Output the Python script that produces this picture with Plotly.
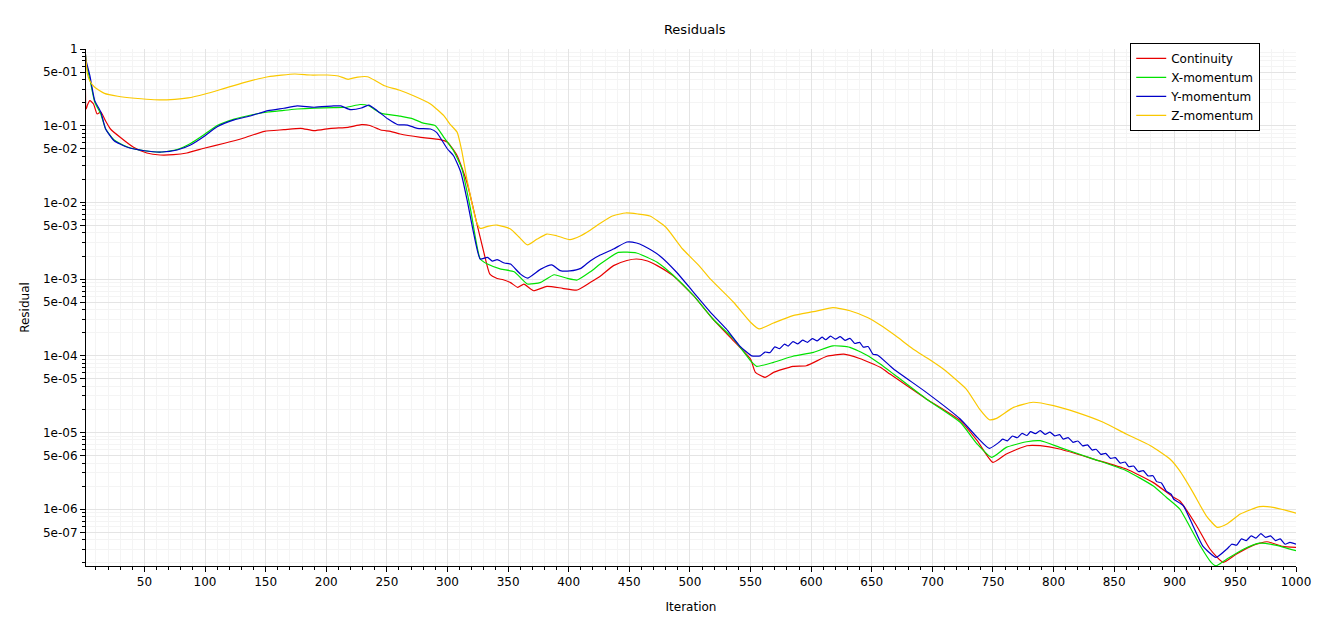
import plotly.graph_objects as go

# Continuity residual
it_cont = [1, 2, 3, 5, 8, 11, 14, 18, 22, 30, 41, 52, 63, 74, 85, 100, 116, 132, 149, 165,
           179, 190, 204, 218, 229, 236, 245, 253, 261, 278, 294, 300, 308, 316, 324, 330, 335,
           341, 346, 352, 358, 363, 371, 382, 395, 407, 418, 426, 437, 448, 456, 465, 473, 486,
           503, 519, 536, 550, 554, 562, 569, 585, 596, 613, 627, 640, 657, 665, 695, 723, 737,
           750, 761, 778, 789, 805, 833, 860, 882, 899, 904, 918, 929, 940, 951, 965, 976, 989, 1000]
res_cont = [1.0, 0.165, 0.186, 0.212, 0.192, 0.142, 0.151, 0.115, 0.0906, 0.0706, 0.0523, 0.0441,
            0.0415, 0.0419, 0.0441, 0.0512, 0.0590, 0.0692, 0.0845, 0.0887,
            0.0925, 0.0861, 0.0925, 0.0953, 0.103, 0.1006, 0.0879, 0.0845, 0.0780, 0.0706, 0.0657,
            0.0608, 0.0406, 0.0183, 0.00550, 0.00223, 0.00116,
            0.00102, 0.00098, 0.00090, 0.00078, 0.00086, 0.000706, 0.000805, 0.000759, 0.000721,
            0.000908, 0.00109, 0.00150, 0.00175, 0.00183, 0.00172, 0.00150, 0.00111,
            0.000608, 0.000302, 0.000157, 9.08e-5, 6.09e-5, 5.25e-5, 6.09e-5, 7.30e-5, 7.43e-5,
            9.86e-5, 1.05e-4, 9.23e-5, 7.08e-5, 5.79e-5, 2.74e-5, 1.43e-5, 7.82e-6,
            4.08e-6, 5.25e-6, 6.73e-6, 6.73e-6, 6.10e-6, 4.51e-6, 3.34e-6, 2.24e-6, 1.43e-6,
            1.29e-6, 6.10e-7, 3.03e-7, 2.03e-7, 2.61e-7, 3.41e-7, 3.77e-7, 3.28e-7, 3.18e-7]

# X-momentum residual
it_xmom = [1, 2, 5, 9, 14, 18, 25, 36, 50, 64, 77, 88, 100, 110, 124, 138, 152, 165, 176, 190,
           206, 217, 228, 235, 245, 261, 272, 280, 290, 297, 305, 312, 319, 327, 333, 344, 355,
           366, 377, 388, 399, 407, 418, 426, 441, 456, 473, 486, 503, 519, 536, 550, 555, 569,
           585, 602, 618, 632, 646, 657, 668, 695, 723, 737, 749, 761, 778, 789, 805, 833, 860,
           882, 893, 904, 909, 921, 930, 934, 943, 957, 970, 983, 1000]
res_xmom = [1.0, 0.637, 0.406, 0.204, 0.142, 0.0906, 0.0651, 0.0528, 0.0472, 0.0454, 0.0489,
            0.0586, 0.0780, 0.1006, 0.122, 0.138, 0.151, 0.158, 0.165, 0.170,
            0.172, 0.174, 0.189, 0.182, 0.146, 0.133, 0.122, 0.108, 0.100, 0.0706, 0.0472, 0.0272,
            0.00820, 0.00183, 0.00157, 0.00135, 0.00125,
            0.000863, 0.000908, 0.00114, 0.00102, 0.000973, 0.00125, 0.00157, 0.00223, 0.00219,
            0.00166, 0.00113, 0.000608, 0.000302, 0.000166, 8.63e-5, 7.30e-5, 8.22e-5,
            9.86e-5, 1.11e-4, 1.35e-4, 1.29e-4, 1.02e-4, 7.82e-5, 5.79e-5, 2.74e-5, 1.36e-5,
            7.08e-6, 4.75e-6, 6.41e-6, 7.59e-6, 7.82e-6, 6.41e-6, 4.51e-6, 3.18e-6,
            2.02e-6, 1.43e-6, 1.01e-6, 7.45e-7, 3.34e-7, 2.03e-7, 1.83e-7, 2.24e-7, 3.03e-7,
            3.62e-7, 3.41e-7, 2.88e-7]

# Y-momentum residual (wavy in the later stages)
it_ymom = [1, 2, 5, 9, 14, 18, 25, 36, 50, 64, 77, 88, 100, 110, 124, 138, 152, 165, 176, 190,
           206, 212, 220, 229, 235, 242, 251, 259, 267, 275, 286, 291, 300, 305, 311, 316, 322,
           327, 333, 337, 341, 347, 352, 360, 366, 377, 386, 393, 401, 410, 418, 426, 437, 448,
           456, 462, 475, 489, 503, 517, 530, 541, 551, 558,
           562, 566, 570, 574, 578, 581, 585, 589, 593, 597, 601, 605, 609, 612, 616, 620, 624,
           628, 632, 636, 640, 643, 647, 651, 655,
           668, 695, 723, 737, 747, 755,
           758, 762, 766, 770, 774, 778, 781, 785, 789, 793, 797, 801, 805, 808, 812, 816, 820,
           824, 828, 832, 835, 839, 843, 847, 851, 855, 859, 862, 866, 870, 874, 878, 882, 885,
           889, 893, 897,
           899, 907, 915, 923, 934, 943,
           947, 951, 955, 959, 963, 967, 971, 975, 979, 983, 987, 991, 995, 1000]
res_ymom = [1.0, 0.698, 0.449, 0.212, 0.151, 0.0906, 0.0637, 0.0523, 0.0472, 0.0454, 0.0482,
            0.0560, 0.0741, 0.0970, 0.119, 0.135, 0.157, 0.169, 0.181, 0.174,
            0.181, 0.181, 0.162, 0.170, 0.185, 0.157, 0.122, 0.103, 0.102, 0.0925, 0.0906, 0.0820,
            0.0497, 0.0406, 0.0247, 0.0111, 0.00368,
            0.00183, 0.00192, 0.00172, 0.00179, 0.00162, 0.00157, 0.00117, 0.00103, 0.00135,
            0.00153, 0.00129, 0.00128, 0.00138, 0.00174, 0.00206, 0.00247, 0.00305,
            0.00296, 0.00270, 0.00202, 0.00123, 0.000673, 0.000369, 0.000224, 0.000135,
            1.00e-4, 1.00e-4,
            1.12e-4, 1.10e-4, 1.31e-4, 1.24e-4, 1.42e-4, 1.34e-4, 1.53e-4, 1.43e-4, 1.60e-4,
            1.50e-4, 1.68e-4, 1.57e-4, 1.75e-4, 1.62e-4, 1.81e-4, 1.65e-4, 1.78e-4,
            1.59e-4, 1.69e-4, 1.45e-4, 1.50e-4, 1.30e-4, 1.32e-4, 1.05e-4, 1.02e-4,
            6.73e-5, 3.34e-5, 1.50e-5, 8.65e-6, 6.22e-6, 7.45e-6,
            8.2e-6, 7.8e-6, 9.0e-6, 8.55e-6, 9.75e-6, 9.15e-6, 1.03e-5, 9.65e-6, 1.06e-5, 9.45e-6,
            1.015e-5, 9.05e-6, 9.4e-6, 8.2e-6, 8.6e-6, 7.45e-6, 7.75e-6,
            6.7e-6, 6.9e-6, 5.9e-6, 6.05e-6, 5.2e-6, 5.35e-6, 4.6e-6, 4.7e-6, 4.0e-6, 4.13e-6,
            3.58e-6, 3.66e-6, 3.1e-6, 3.19e-6, 2.72e-6, 2.73e-6, 2.29e-6,
            2.2e-6, 1.72e-6, 1.57e-6,
            1.36e-6, 1.11e-6, 6.10e-7, 3.34e-7, 2.36e-7, 3.03e-7,
            3.5e-7, 3.4e-7, 4.1e-7, 3.9e-7, 4.5e-7, 4.2e-7, 4.8e-7, 4.3e-7, 4.5e-7, 3.9e-7,
            4.1e-7, 3.5e-7, 3.7e-7, 3.5e-7]

# Z-momentum residual
it_zmom = [1, 3, 5, 9, 17, 28, 42, 58, 75, 86, 100, 116, 132, 152, 174, 187, 201, 210, 218, 226,
           234, 241, 248, 260, 272, 286, 297, 302, 308, 312, 316, 320, 324, 327, 334, 341, 352,
           359, 366, 374, 382, 390, 401, 410, 418, 426, 436, 447, 457, 467, 480, 494, 508, 517,
           536, 550, 557, 569, 585, 602, 618, 632, 646, 657, 670, 684, 697, 709, 728, 739, 747,
           753, 767, 783, 800, 819, 841, 860, 880, 896, 904, 915, 926, 935, 943, 954, 970, 981, 1000]
res_zmom = [1.0, 0.472, 0.383, 0.317, 0.264, 0.242, 0.228, 0.218, 0.221, 0.230, 0.259, 0.307,
            0.364, 0.435, 0.472, 0.458, 0.458, 0.445, 0.403, 0.431,
            0.435, 0.383, 0.332, 0.292, 0.246, 0.192, 0.135, 0.105, 0.082, 0.0454, 0.0202, 0.0101,
            0.00555, 0.00459, 0.00492, 0.00507, 0.00450,
            0.00354, 0.00279, 0.00333, 0.00387, 0.00368, 0.00327, 0.00368, 0.00437, 0.00534,
            0.00665, 0.00728, 0.00706, 0.00665, 0.00478, 0.00247, 0.00147, 0.00100,
            0.000499, 0.000274, 0.000224, 0.000268, 0.000334, 0.000376, 0.000424, 0.000387,
            0.000318, 0.000252, 0.000181, 0.000123, 9.08e-5, 6.73e-5, 3.69e-5, 2.02e-5, 1.47e-5,
            1.53e-5, 2.13e-5, 2.48e-5, 2.24e-5, 1.83e-5, 1.36e-5, 9.55e-6, 6.73e-6, 4.51e-6,
            3.18e-6, 1.66e-6, 8.22e-7, 5.81e-7, 6.41e-7, 8.65e-7, 1.08e-6, 1.06e-6, 8.91e-7]

y_tickvals = [1, 5e-1, 1e-1, 5e-2, 1e-2, 5e-3, 1e-3, 5e-4, 1e-4, 5e-5, 1e-5, 5e-6, 1e-6, 5e-7]
y_ticktext = ["1", "5e-01", "1e-01", "5e-02", "1e-02", "5e-03", "1e-03", "5e-04",
              "1e-04", "5e-05", "1e-05", "5e-06", "1e-06", "5e-07"]

series = [
    ("Continuity", it_cont, res_cont, "rgb(232,0,0)"),
    ("X-momentum", it_xmom, res_xmom, "rgb(0,226,0)"),
    ("Y-momentum", it_ymom, res_ymom, "rgb(0,0,200)"),
    ("Z-momentum", it_zmom, res_zmom, "rgb(250,200,0)"),
]

# minor ticks on the log axis: 2..9 x each decade
minor_vals = []
for p in range(0, 8):
    for m in [2, 3, 4, 6, 7, 8, 9]:
        minor_vals.append(m * 10.0 ** (-p - 1))

fig = go.Figure()
for name, xs, ys, col in series:
    fig.add_trace(go.Scatter(x=xs, y=ys, mode="lines", name=name,
                             line=dict(color=col, width=1.2, shape="spline", smoothing=0.5)))

# page body has an 8px margin, so the figure is a bit smaller than the window
font = "DejaVu Sans, Verdana, sans-serif"
fig.update_layout(
    width=1322, height=617,
    margin=dict(l=78, r=34, t=41, b=59),
    paper_bgcolor="white", plot_bgcolor="white",
    font=dict(family=font, size=12, color="#000"),
    title=dict(text="Residuals", x=0.5195, xanchor="center", yref="container",
               y=0.966, yanchor="middle", font=dict(size=13)),
    showlegend=True,
    legend=dict(x=0.863, y=1.012, xanchor="left", yanchor="top",
                bgcolor="white", bordercolor="#000", borderwidth=1,
                font=dict(size=12), itemwidth=30, tracegroupgap=0),
)
fig.update_xaxes(
    range=[1.8, 1000], tick0=0, dtick=50,
    showline=True, linecolor="#000", linewidth=1,
    ticks="outside", ticklen=5, tickcolor="#000",
    showgrid=True, gridcolor="#e4e4e4", gridwidth=1, zeroline=False,
    minor=dict(dtick=10, tick0=0, ticks="outside", ticklen=3, tickcolor="#000",
               showgrid=True, gridcolor="#f4f4f4"),
    title=dict(text="Iteration", standoff=14, font=dict(size=12)),
)
fig.update_yaxes(
    type="log", range=[-6.74, 0],
    tickmode="array", tickvals=y_tickvals, ticktext=y_ticktext,
    showline=True, linecolor="#000", linewidth=1,
    ticks="outside", ticklen=5, tickcolor="#000",
    showgrid=True, gridcolor="#e4e4e4", gridwidth=1, zeroline=False,
    minor=dict(tickmode="array", tickvals=minor_vals, ticks="outside", ticklen=3,
               tickcolor="#000", showgrid=True, gridcolor="#f4f4f4"),
    title=dict(text="Residual", standoff=10, font=dict(size=12)),
)

fig.write_html("out.html")
